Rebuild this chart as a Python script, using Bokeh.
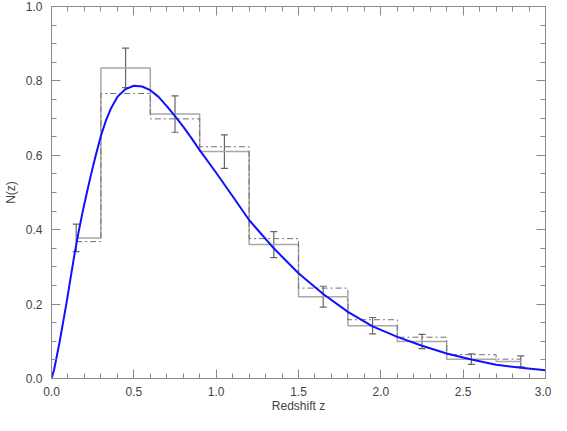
from bokeh.plotting import figure
from bokeh.models import (Range1d, LinearAxis, SingleIntervalTicker, Whisker, ColumnDataSource,
                          TeeHead, PrintfTickFormatter, CustomLabelingPolicy)
from bokeh.embed import file_html
from bokeh.resources import INLINE

# Histogram bin centres (redshift) and values
bin_z = [0.15, 0.45, 0.75, 1.05, 1.35, 1.65, 1.95, 2.25, 2.55, 2.85]
n_solid = [0.378, 0.835, 0.711, 0.610, 0.360, 0.220, 0.142, 0.0995, 0.052, 0.046]
n_dashdot = [0.368, 0.766, 0.698, 0.623, 0.376, 0.243, 0.158, 0.111, 0.064, 0.052]
n_err = [0.037, 0.053, 0.049, 0.045, 0.035, 0.028, 0.022, 0.019, 0.014, 0.015]

# Model curve
curve_z = [0.0, 0.015, 0.03, 0.05, 0.07, 0.09, 0.115, 0.14, 0.165, 0.19, 0.215, 0.24,
           0.27, 0.30, 0.33, 0.36, 0.40, 0.45, 0.50, 0.55, 0.60, 0.65, 0.70, 0.75,
           0.80, 0.85, 0.90, 1.00, 1.10, 1.20, 1.35, 1.50, 1.65, 1.80, 1.95, 2.10,
           2.25, 2.40, 2.55, 2.70, 2.85, 3.00]
curve_n = [0.0, 0.022, 0.055, 0.100, 0.150, 0.200, 0.268, 0.335, 0.395, 0.450, 0.500, 0.548,
           0.602, 0.652, 0.693, 0.725, 0.757, 0.778, 0.787, 0.785, 0.775, 0.757, 0.732, 0.705,
           0.677, 0.646, 0.614, 0.553, 0.490, 0.426, 0.350, 0.283, 0.227, 0.179, 0.140, 0.112,
           0.088, 0.067, 0.051, 0.037, 0.029, 0.022]

x_label = "Redshift z"
y_label = "N(z)"

FONT = "Liberation Sans"
AXIS_COL = "#8a8a8a"
TEXT_COL = "#444444"

p = figure(width=551, height=415, output_backend="svg", toolbar_location=None,
           x_range=Range1d(0, 3.0), y_range=Range1d(0, 1.0),
           min_border_left=0, min_border_right=6, min_border_top=6, min_border_bottom=0)
p.grid.visible = False
p.outline_line_color = None
p.background_fill_color = "white"
p.border_fill_color = "white"

p.xaxis.visible = False
p.yaxis.visible = False

hide_all = CustomLabelingPolicy(
    code="const n = indices.size; for (let i = 0; i < n; i++) { indices.unset(i) } return indices")

def style(ax, labels=True):
    ax.axis_line_color = AXIS_COL
    ax.axis_line_width = 1
    ax.major_tick_line_color = AXIS_COL
    ax.minor_tick_line_color = AXIS_COL
    ax.major_tick_in = 9
    ax.major_tick_out = 0
    ax.minor_tick_in = 5
    ax.minor_tick_out = 0
    ax.major_label_text_font = FONT
    ax.major_label_text_color = TEXT_COL
    ax.axis_label_text_font = FONT
    ax.axis_label_text_color = TEXT_COL
    ax.axis_label_text_font_style = "normal"
    ax.axis_label_text_font_size = "12px"
    ax.major_label_text_font_size = "12px"
    if not labels:
        ax.major_label_policy = hide_all
        ax.major_label_standoff = 0
        ax.major_label_text_font_size = "1px"

xt = lambda: SingleIntervalTicker(interval=0.5, num_minor_ticks=5)
yt = lambda: SingleIntervalTicker(interval=0.2, num_minor_ticks=4)

xb = LinearAxis(ticker=xt(), axis_label=x_label)
style(xb)
xb.major_label_standoff = 8
xb.axis_label_standoff = 0
xb.formatter = PrintfTickFormatter(format="%.1f")
p.add_layout(xb, "below")

xa = LinearAxis(ticker=xt())
style(xa, labels=False)
p.add_layout(xa, "above")

yl = LinearAxis(ticker=yt(), axis_label=y_label)
style(yl)
yl.major_label_standoff = 9
yl.axis_label_standoff = 5
yl.formatter = PrintfTickFormatter(format="%.1f")
p.add_layout(yl, "left")

yr = LinearAxis(ticker=yt())
style(yr, labels=False)
p.add_layout(yr, "right")

# histograms
p.step(bin_z, n_solid, mode="center", line_color="#a8a8a8", line_width=1.5)
p.step(bin_z, n_dashdot, mode="center", line_color="#707070", line_width=1,
       line_dash="6 3 2 3")

# error bars
src = ColumnDataSource(dict(x=bin_z,
                            lo=[v - e for v, e in zip(n_solid, n_err)],
                            hi=[v + e for v, e in zip(n_solid, n_err)]))
w = Whisker(source=src, base="x", lower="lo", upper="hi",
            line_color="#666666", line_width=1.2,
            upper_head=TeeHead(size=7, line_color="#666666", line_width=1.2),
            lower_head=TeeHead(size=7, line_color="#666666", line_width=1.2))
p.add_layout(w)

# model curve
p.line(curve_z, curve_n, line_color="#1010ff", line_width=2, line_join="round")

open("out.html", "w").write(file_html(p, INLINE))
